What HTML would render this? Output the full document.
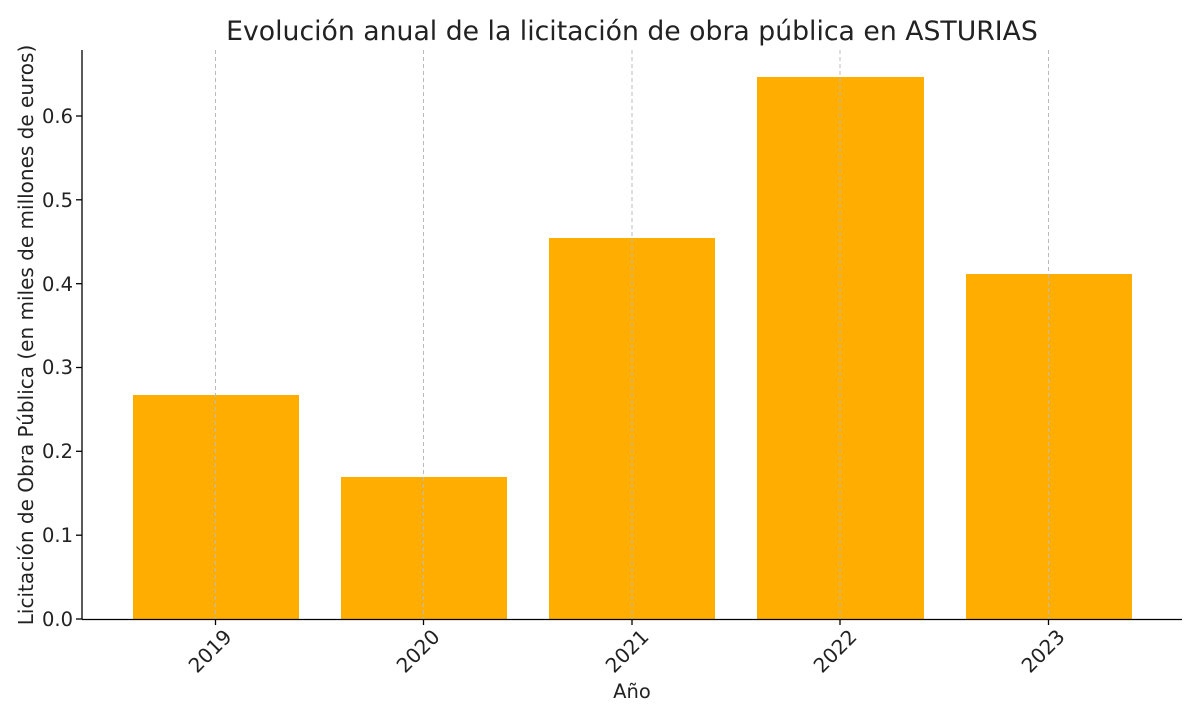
<!DOCTYPE html>
<html><head><meta charset="utf-8"><style>
html,body{margin:0;padding:0;background:#fff;}
svg text{font-family:"DejaVu Sans","Liberation Sans",sans-serif;fill:#222;}
</style></head><body>
<svg width="1200" height="720" viewBox="0 0 1200 720" xmlns="http://www.w3.org/2000/svg">
<rect width="1200" height="720" fill="#fff"/>
<text x="632" y="40" font-size="26.7" text-anchor="middle" fill="#333">Evolución anual de la licitación de obra pública en ASTURIAS</text>
<g fill="#FFAE00">
<rect x="133" y="395" width="166" height="224"/>
<rect x="341" y="477" width="166" height="142"/>
<rect x="549" y="238" width="166" height="381"/>
<rect x="757" y="77" width="167" height="542"/>
<rect x="966" y="274" width="166" height="345"/>
</g>
<g stroke="#bbb" stroke-width="1" stroke-dasharray="4,3">
<line x1="215.5" y1="50" x2="215.5" y2="619"/>
<line x1="423.5" y1="50" x2="423.5" y2="619"/>
<line x1="632" y1="50" x2="632" y2="619"/>
<line x1="840" y1="50" x2="840" y2="619"/>
<line x1="1048.5" y1="50" x2="1048.5" y2="619"/>
</g>
<g stroke="#000" stroke-width="1.3">
<line x1="82" y1="50" x2="82" y2="619.5"/>
<line x1="82" y1="619.5" x2="1182" y2="619.5"/>
<line x1="76" y1="619" x2="82" y2="619"/>
<line x1="76" y1="535.2" x2="82" y2="535.2"/>
<line x1="76" y1="451.3" x2="82" y2="451.3"/>
<line x1="76" y1="367.5" x2="82" y2="367.5"/>
<line x1="76" y1="283.7" x2="82" y2="283.7"/>
<line x1="76" y1="199.8" x2="82" y2="199.8"/>
<line x1="76" y1="116" x2="82" y2="116"/>
<line x1="215.5" y1="619" x2="215.5" y2="625"/>
<line x1="423.5" y1="619" x2="423.5" y2="625"/>
<line x1="632" y1="619" x2="632" y2="625"/>
<line x1="840" y1="619" x2="840" y2="625"/>
<line x1="1048.5" y1="619" x2="1048.5" y2="625"/>
</g>
<g font-size="19.5" text-anchor="end">
<text x="73" y="626">0.0</text>
<text x="73" y="542">0.1</text>
<text x="73" y="458">0.2</text>
<text x="73" y="374">0.3</text>
<text x="73" y="291">0.4</text>
<text x="73" y="207">0.5</text>
<text x="73" y="123">0.6</text>
</g>
<g font-size="20" text-anchor="end">
<text transform="translate(233,638) rotate(-45)">2019</text>
<text transform="translate(441,638) rotate(-45)">2020</text>
<text transform="translate(650,638) rotate(-45)">2021</text>
<text transform="translate(858,638) rotate(-45)">2022</text>
<text transform="translate(1066,638) rotate(-45)">2023</text>
</g>
<text x="632" y="698" font-size="19.5" text-anchor="middle">Año</text>
<text transform="translate(33,335) rotate(-90)" font-size="20" text-anchor="middle">Licitación de Obra Pública (en miles de millones de euros)</text>
</svg>
</body></html>
